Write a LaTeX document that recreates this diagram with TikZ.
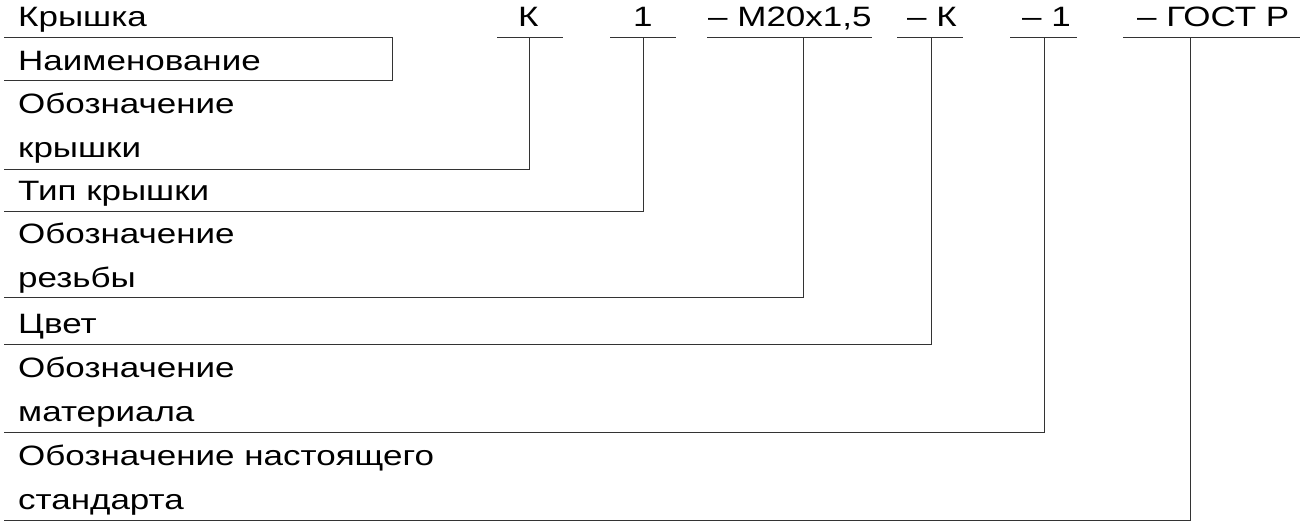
\documentclass[tikz,border=0pt]{standalone}
\usepackage{fontspec}
\setmainfont[FakeStretch=1.25]{Liberation Sans}
\begin{document}
\begin{tikzpicture}[x=1pt,y=-1pt,
  txt/.style={anchor=base west, inner sep=0pt, font=\fontsize{28}{32}\selectfont},
  ln/.style={line width=0.9pt, draw=black!80}]
\useasboundingbox[fill=white] (0,0) rectangle (1303,522);
% top row
\node[txt] (top0) at (18,27) {Крышка};
\node[txt] (top1) at (518,27) {К};
\node[txt] (top2) at (633,27) {1};
\node[txt] (top3) at (708,27) {– М20х1,5};
\node[txt] (top4) at (907,27) {– К};
\node[txt] (top5) at (1022,27) {– 1};
\node[txt] (top6) at (1137,27) {– ГОСТ Р};
% labels
\node[txt] (lab1) at (18,70) {Наименование};
\node[txt] (lab2a) at (18,113) {Обозначение};
\node[txt] (lab2b) at (18,157) {крышки};
\node[txt] (lab3) at (18,200) {Тип крышки};
\node[txt] (lab4a) at (18,243) {Обозначение};
\node[txt] (lab4b) at (18,287) {резьбы};
\node[txt] (lab5) at (18,333) {Цвет};
\node[txt] (lab6a) at (18,377) {Обозначение};
\node[txt] (lab6b) at (18,421) {материала};
\node[txt] (lab7a) at (18,465) {Обозначение настоящего};
\node[txt] (lab7b) at (18,509) {стандарта};
% coordinates
\coordinate (n0) at (4,37);  \coordinate (n1) at (392,37);
\coordinate (n2) at (392,80); \coordinate (n3) at (4,80);
\coordinate (u1a) at (497,37); \coordinate (u1b) at (563,37); \coordinate (v1) at (529,37); \coordinate (c1) at (529,169); \coordinate (e1) at (4,169);
\coordinate (u2a) at (610,37); \coordinate (u2b) at (676,37); \coordinate (v2) at (643,37); \coordinate (c2) at (643,211); \coordinate (e2) at (4,211);
\coordinate (u3a) at (707,37); \coordinate (u3b) at (872,37); \coordinate (v3) at (803,37); \coordinate (c3) at (803,297); \coordinate (e3) at (4,297);
\coordinate (u4a) at (897,37); \coordinate (u4b) at (963,37); \coordinate (v4) at (931,37); \coordinate (c4) at (931,344); \coordinate (e4) at (4,344);
\coordinate (u5a) at (1010,37); \coordinate (u5b) at (1077,37); \coordinate (v5) at (1044,37); \coordinate (c5) at (1044,432); \coordinate (e5) at (4,432);
\coordinate (u6a) at (1123,37); \coordinate (u6b) at (1300,37); \coordinate (v6) at (1190,37); \coordinate (c6) at (1190,520); \coordinate (e6) at (4,520);
% lines
\draw[ln] (n0) -- (n1) -- (n2) -- (n3);
\draw[ln] (u1a) -- (u1b); \draw[ln] (v1) -- (c1) -- (e1);
\draw[ln] (u2a) -- (u2b); \draw[ln] (v2) -- (c2) -- (e2);
\draw[ln] (u3a) -- (u3b); \draw[ln] (v3) -- (c3) -- (e3);
\draw[ln] (u4a) -- (u4b); \draw[ln] (v4) -- (c4) -- (e4);
\draw[ln] (u5a) -- (u5b); \draw[ln] (v5) -- (c5) -- (e5);
\draw[ln] (u6a) -- (u6b); \draw[ln] (v6) -- (c6) -- (e6);
\end{tikzpicture}
\end{document}
